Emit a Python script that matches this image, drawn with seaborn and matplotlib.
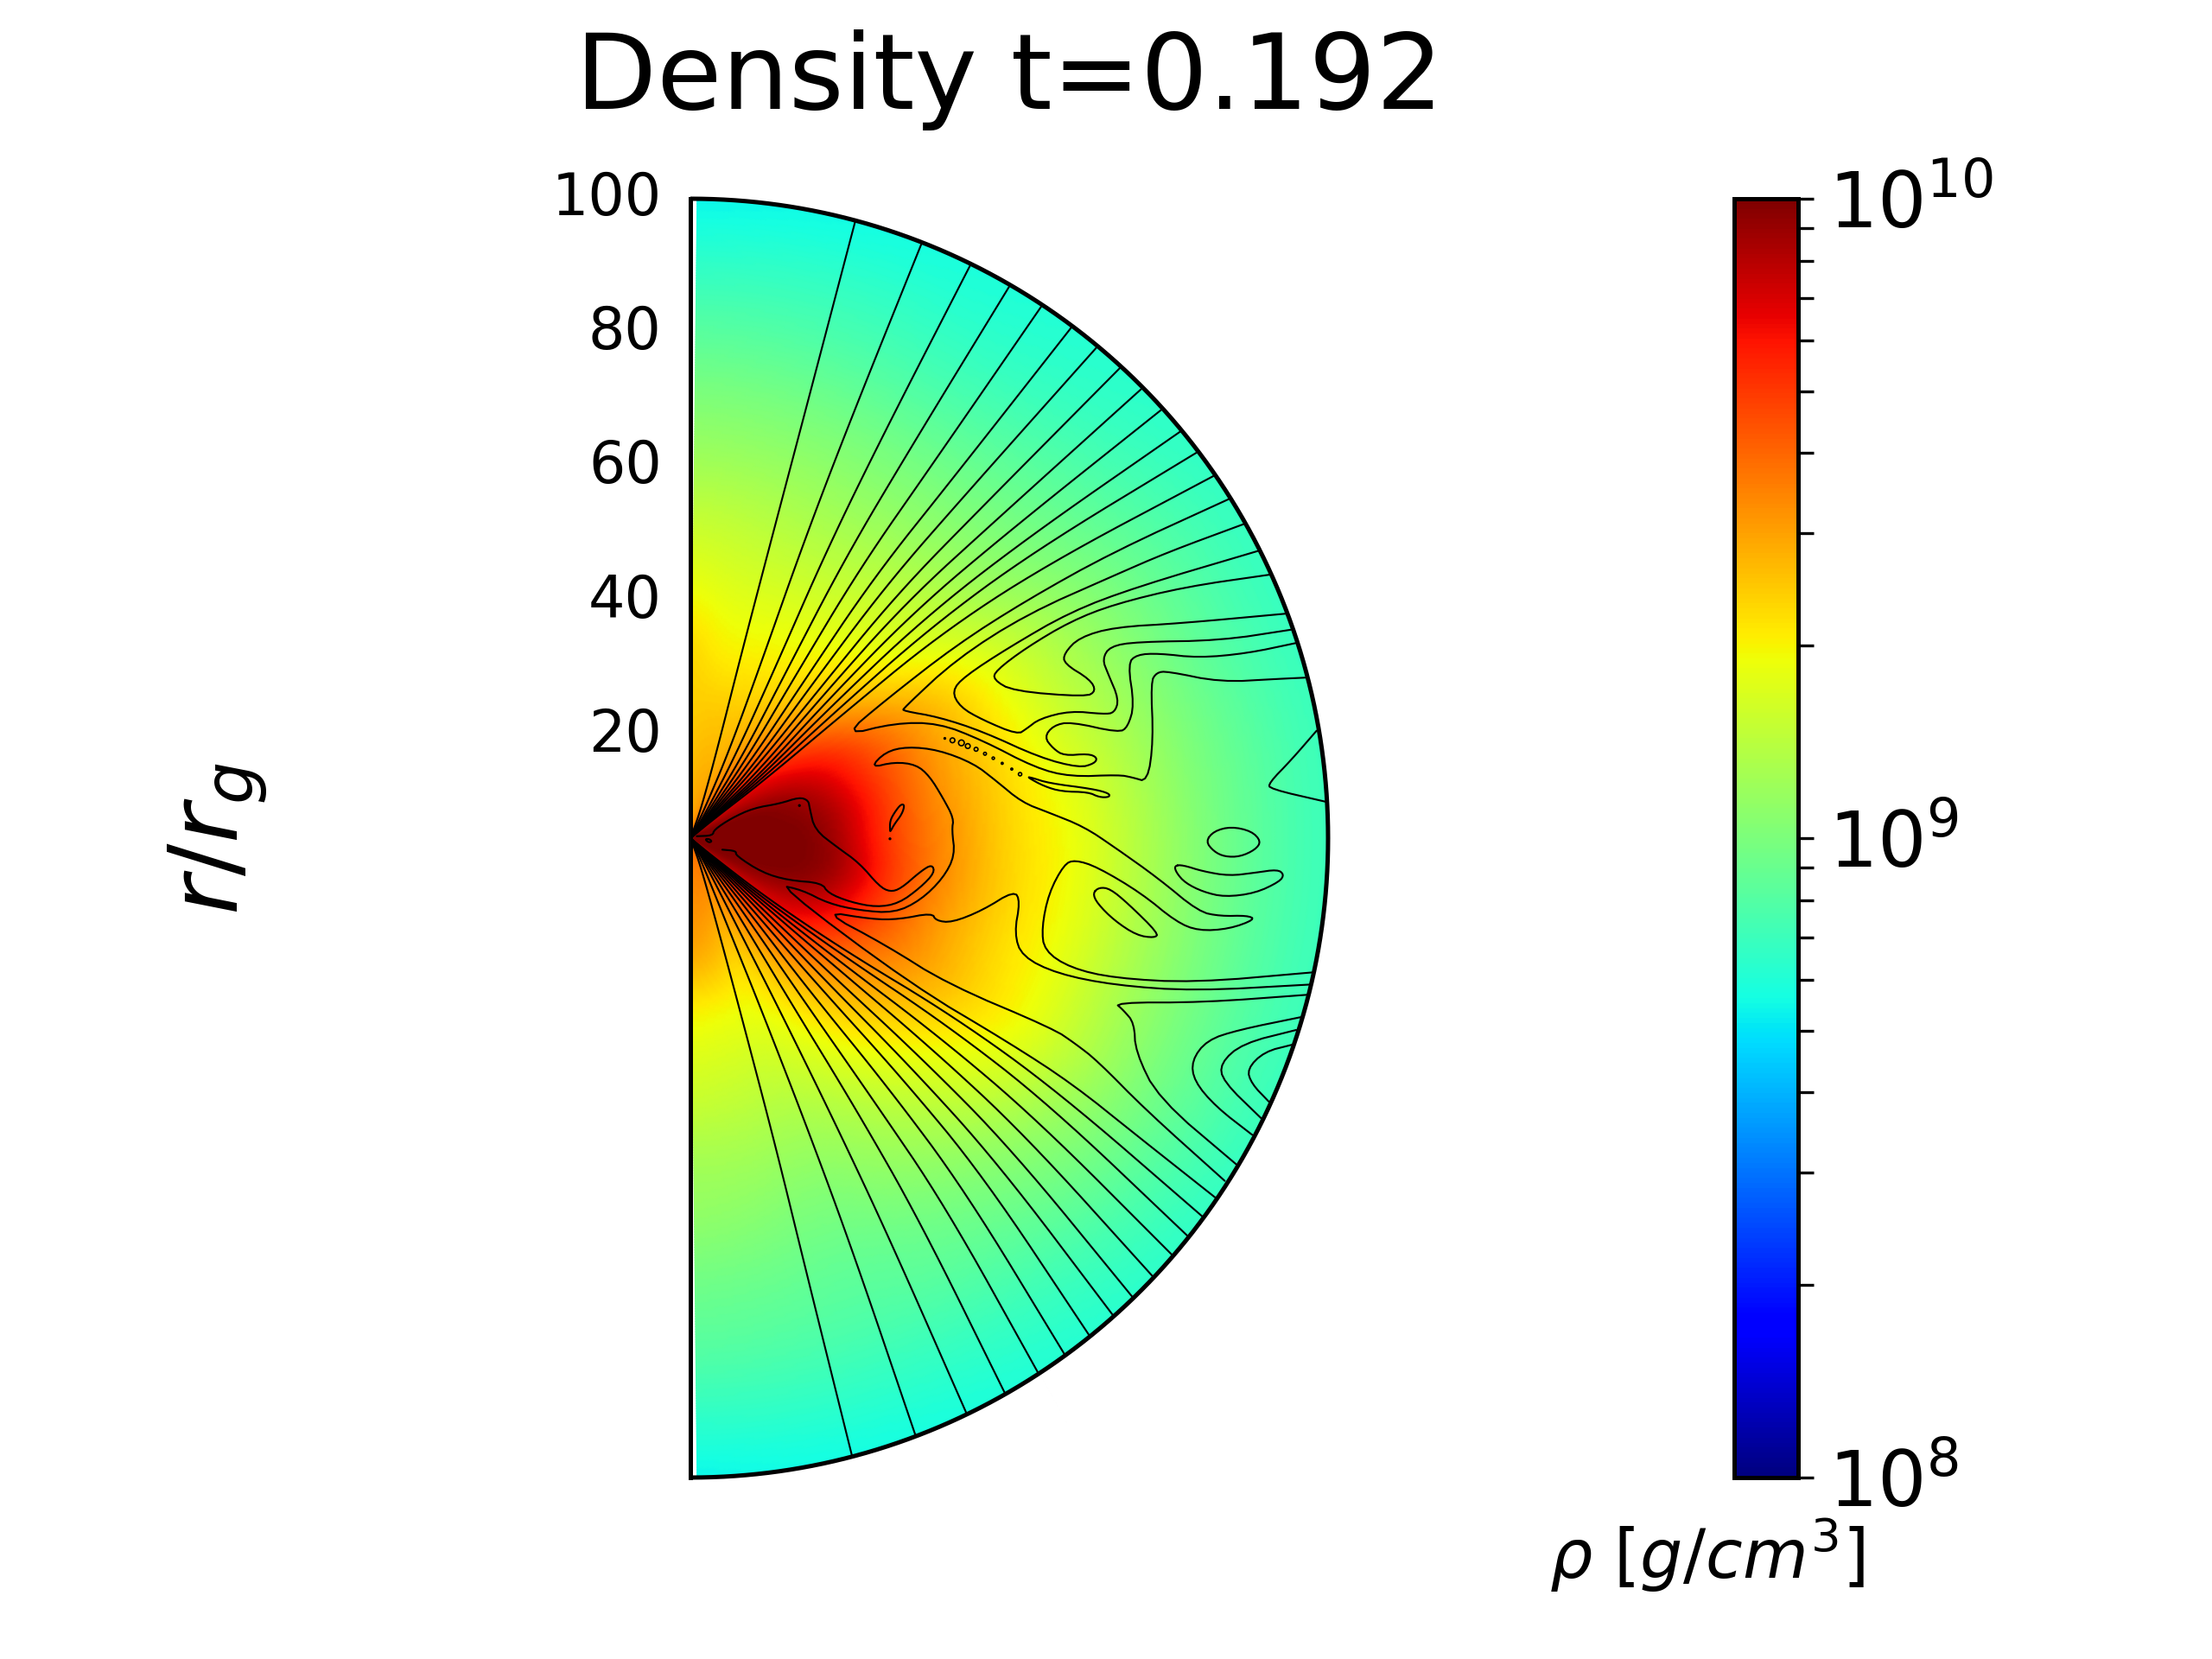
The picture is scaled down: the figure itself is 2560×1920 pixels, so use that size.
import numpy as np
import matplotlib
matplotlib.use("Agg")
import matplotlib.pyplot as plt
from matplotlib.colors import LogNorm
from matplotlib.ticker import LogLocator, NullFormatter
import seaborn as sns

# ---------- density: log10(rho), rows = angle from north pole, cols = radius
theta_deg = [0, 10, 20, 30, 40, 50, 60, 70, 80, 90, 100, 110, 120, 130, 140, 150, 160, 170, 180]
radius = [0, 5, 10, 15, 20, 25, 30, 35, 40, 50, 60, 70, 80, 90, 100]
log_density = [
    [9.45, 9.45, 9.42, 9.40, 9.38, 9.38, 9.37, 9.32, 9.27, 9.18, 9.08, 9.00, 8.91, 8.81, 8.72],
    [9.50, 9.47, 9.45, 9.42, 9.40, 9.35, 9.30, 9.27, 9.23, 9.16, 9.07, 8.99, 8.90, 8.82, 8.73],
    [9.60, 9.50, 9.45, 9.42, 9.40, 9.35, 9.31, 9.27, 9.23, 9.14, 9.06, 8.98, 8.89, 8.82, 8.75],
    [9.70, 9.60, 9.55, 9.48, 9.43, 9.37, 9.32, 9.28, 9.23, 9.14, 9.05, 8.97, 8.88, 8.81, 8.77],
    [9.80, 9.75, 9.70, 9.60, 9.53, 9.44, 9.37, 9.31, 9.26, 9.16, 9.06, 8.98, 8.90, 8.83, 8.79],
    [9.90, 9.85, 9.82, 9.78, 9.70, 9.60, 9.50, 9.40, 9.31, 9.20, 9.08, 9.00, 8.93, 8.86, 8.81],
    [9.95, 9.95, 9.92, 9.88, 9.83, 9.75, 9.65, 9.55, 9.47, 9.32, 9.18, 9.06, 8.97, 8.89, 8.83],
    [10.0, 10.0, 10.0, 9.98, 9.92, 9.82, 9.70, 9.60, 9.50, 9.35, 9.20, 9.09, 8.98, 8.89, 8.83],
    [10.0, 10.0, 10.0, 10.0, 9.97, 9.87, 9.72, 9.60, 9.50, 9.36, 9.25, 9.12, 9.00, 8.91, 8.84],
    [10.0, 10.0, 10.0, 10.0, 10.0, 9.88, 9.72, 9.60, 9.52, 9.36, 9.28, 9.14, 9.01, 8.91, 8.84],
    [10.0, 10.0, 10.0, 10.0, 10.0, 9.92, 9.75, 9.63, 9.52, 9.37, 9.28, 9.14, 9.01, 8.91, 8.84],
    [10.0, 10.0, 10.0, 10.0, 9.97, 9.87, 9.72, 9.60, 9.50, 9.36, 9.27, 9.13, 9.01, 8.91, 8.84],
    [10.0, 9.98, 9.96, 9.93, 9.88, 9.78, 9.65, 9.57, 9.50, 9.38, 9.28, 9.14, 9.01, 8.91, 8.83],
    [9.95, 9.90, 9.85, 9.82, 9.78, 9.68, 9.55, 9.48, 9.42, 9.30, 9.20, 9.07, 8.98, 8.88, 8.81],
    [9.80, 9.75, 9.70, 9.65, 9.58, 9.50, 9.44, 9.38, 9.32, 9.20, 9.10, 9.01, 8.93, 8.85, 8.79],
    [9.65, 9.60, 9.55, 9.50, 9.42, 9.38, 9.32, 9.27, 9.22, 9.12, 9.05, 8.97, 8.91, 8.83, 8.77],
    [9.60, 9.55, 9.50, 9.43, 9.36, 9.30, 9.26, 9.21, 9.17, 9.08, 9.00, 8.94, 8.89, 8.82, 8.75],
    [9.60, 9.55, 9.52, 9.47, 9.42, 9.32, 9.26, 9.22, 9.18, 9.10, 9.03, 8.96, 8.90, 8.82, 8.74],
    [9.55, 9.53, 9.52, 9.50, 9.45, 9.33, 9.28, 9.23, 9.20, 9.10, 9.05, 8.97, 8.91, 8.82, 8.72],
]

# ---------- open field lines: angle (deg) from the pole at each radius
line_radius = [0.3, 5, 15, 30, 50, 70, 100]
north_line_angles = [
    [26, 20, 16.8, 15.5, 15.2, 15.1, 15.0],
    [32, 26, 24.0, 22.0, 21.0, 21.0, 21.3],
    [36, 31, 28.6, 26.5, 25.4, 25.6, 26.1],
    [39, 34, 32.5, 30.0, 29.0, 29.5, 30.1],
    [41, 37, 35.4, 33.0, 32.2, 33.0, 33.5],
    [43, 39, 38.2, 36.0, 35.2, 36.2, 36.8],
    [45, 41, 40.9, 38.5, 37.8, 38.8, 39.7],
    [46, 43, 43.0, 41.0, 40.3, 41.5, 42.5],
    [47, 45, 45.5, 43.0, 42.5, 44.0, 45.2],
    [48, 46.5, 47.5, 45.0, 44.7, 46.2, 47.8],
    [49, 48, 49.0, 47.0, 46.8, 48.3, 50.4],
    [50, 49.5, 50.5, 49.0, 48.8, 50.2, 52.8],
    [51, 51, 52.0, 51.0, 50.8, 52.5, 55.4],
]
south_line_angles = [
    [26, 20, 17.0, 16.0, 15.5, 15.0, 14.7],
    [32, 25, 23.0, 22.5, 22.0, 21.5, 20.7],
    [36, 30, 28.0, 27.5, 27.0, 26.5, 25.7],
    [39, 33, 32.0, 31.5, 31.5, 31.0, 29.6],
    [41, 36, 35.5, 35.0, 35.0, 34.8, 33.1],
    [43, 38.5, 38.5, 38.0, 38.5, 38.0, 36.0],
    [45, 41, 41.0, 41.0, 41.5, 41.0, 38.8],
    [46, 43, 43.5, 43.5, 44.0, 43.5, 41.6],
    [47, 45, 45.5, 46.0, 46.5, 46.0, 44.0],
    [48, 46.5, 47.5, 48.5, 49.0, 48.5, 46.6],
    [49, 48, 49.0, 50.5, 51.5, 51.0, 49.2],
    [50, 49.5, 50.5, 52.5, 54.0, 53.5, 51.4],
    [51, 51, 52.0, 54.0, 56.0, 55.5, 53.6],
]

# ---------- folded field lines (r/r_g units)
hook_17_x = [90.8, 77.6, 66.5, 59.6, 52.7, 47.9, 47.5, 50.6, 62.0, 63.6, 62.7, 58.6, 58.6, 61.0, 66.5, 76.9, 93.3]
hook_17_y = [41.2, 39.3, 36.6, 33.9, 29.8, 26.2, 24.8, 23.0, 22.1, 23.0, 24.8, 27.3, 28.9, 31.4, 33.0, 33.6, 35.1]
hook_16_x = [89.3, 70.0, 59.6, 49.9, 43.0, 41.0, 42.3, 45.8, 51.3, 52.7, 54.8, 59.6, 64.8, 66.5, 67.2, 65.5, 64.6, 65.8, 70.0, 83.1, 94.2]
hook_16_y = [45.0, 39.3, 35.4, 29.8, 25.3, 23.0, 20.5, 18.5, 16.2, 17.1, 18.7, 19.9, 19.4, 19.6, 21.7, 25.7, 28.0, 30.0, 30.7, 30.9, 32.6]
hook_15_x = [87.0, 74.8, 66.5, 52.7, 41.7, 33.4, 33.4, 38.9, 45.8, 54.8, 61.0, 63.4, 63.8, 62.4, 58.6, 56.9, 55.5, 56.9, 59.6, 67.2, 68.6, 69.6, 68.6, 70.0, 73.4, 79.7, 87.3, 94.9]
hook_15_y = [49.2, 44.7, 41.1, 35.0, 28.0, 20.3, 19.9, 18.95, 16.7, 12.6, 11.0, 11.7, 12.6, 13.2, 12.9, 14.0, 15.8, 17.6, 18.2, 16.5, 17.4, 20.8, 27.3, 28.7, 28.9, 28.2, 28.9, 30.5]
hook_14_x = [84.6, 66.2, 52.7, 41.7, 30.5, 24.0, 32.0, 38.9, 45.8, 54.1, 59.6, 67.2, 69.3, 71.7, 72.6, 72.2, 73.1, 74.8, 83.1, 92.1, 96.4]
hook_14_y = [53.1, 44.7, 37.2, 30.2, 21.5, 16.0, 18.0, 18.0, 15.3, 11.0, 9.6, 9.9, 9.5, 8.8, 15.3, 24.4, 25.9, 26.1, 24.4, 24.9, 25.1]
wedge_x = [98.2, 94.2, 90.7, 90.9, 99.6]
wedge_y = [16.8, 12.2, 8.6, 7.7, 5.7]
long_line_x = [82.3, 70.0, 60.0, 50.0, 34.8, 13.7, 17.5, 21.6, 26.5, 32.0, 36.1, 39.6, 41.5, 41.0, 41.3, 39.6, 37.5, 35.4, 32.0, 28.2, 30.6, 34.0, 38.9, 44.4, 47.9, 52.0, 56.2, 61.7, 66.5, 73.4, 79.7, 83.1, 87.3, 88.6, 84.5, 79.7, 76.2, 70.7, 63.8, 60.3, 58.6, 56.2, 55.1, 55.5, 59.6, 66.5, 79.0, 97.5]
long_line_y = [-56.2, -46.5, -38.5, -32.0, -23.0, -7.3, -8.1, -10.2, -11.3, -11.7, -9.7, -6.3, -2.7, 1.3, 3.1, 6.3, 9.7, 11.5, 11.9, 11.0, 13.5, 14.3, 13.8, 11.7, 9.0, 5.6, 4.0, 1.8, -1.4, -6.3, -11.5, -12.2, -12.1, -12.7, -14.2, -14.5, -13.1, -8.6, -4.5, -3.4, -4.1, -8.6, -14.0, -17.6, -20.3, -21.9, -22.6, -21.0]
second_line_x = [97.1, 79.0, 66.5, 57.5, 52.0, 50.8, 51.7, 50.8, 45.8, 41.0, 38.5, 37.9, 32.7, 28.5, 20.6, 30.6, 40.3, 56.9, 60.3, 63.8, 71.4, 83.8]
second_line_y = [-22.9, -23.9, -23.0, -21.2, -18.5, -14.9, -9.9, -8.2, -11.3, -13.2, -12.9, -11.7, -12.7, -12.7, -11.4, -16.7, -22.8, -29.8, -32.1, -34.8, -42.5, -53.6]
third_line_x = [96.7, 80.4, 66.5, 67.9, 69.6, 69.8, 73.4, 85.7]
third_line_y = [-24.5, -25.7, -25.7, -26.9, -28.9, -33.4, -40.7, -51.1]
u_outer_x = [95.7, 85.9, 81.0, 78.6, 79.0, 82.4, 88.1]
u_outer_y = [-28.0, -30.0, -31.6, -34.8, -38.0, -42.0, -46.4]
u_mid_x = [95.0, 86.6, 83.1, 83.5, 89.5]
u_mid_y = [-30.0, -32.1, -35.2, -38.0, -43.8]
u_inner_x = [94.4, 90.0, 87.3, 88.0, 90.7]
u_inner_y = [-32.3, -33.4, -36.1, -38.4, -41.2]
core_x = [1.0, 3.5, 3.7, 6.4, 9.9, 14.0, 17.1, 18.5, 18.7, 19.5, 23.0, 26.5, 29.6, 31.3, 33.0, 36.1, 37.9, 38.3, 36.1, 32.7, 29.2, 25.1, 21.6, 20.6, 15.4, 11.3, 7.1, 7.2, 5.0]
core_y = [0.3, 0.4, 1.3, 3.1, 4.7, 5.4, 6.4, 5.9, 4.7, 1.3, -1.4, -3.9, -7.5, -8.4, -7.9, -5.2, -4.1, -5.4, -7.7, -10.2, -10.8, -10.0, -8.6, -7.0, -6.6, -5.4, -2.7, -2.0, -1.8]

# closed islands of field
circle_x = [80.8, 82.1, 84.8, 88.0, 89.5, 88.6, 86.2, 83.8, 82.1, 80.8]
circle_y = [-0.5, 1.1, 1.8, 1.1, -0.5, -1.8, -2.9, -2.9, -2.1, -0.5]
kidney_x = [75.9, 77.2, 80.4, 84.5, 88.6, 92.1, 93.1, 92.4, 88.6, 83.8, 80.4, 77.6, 76.2, 75.9]
kidney_y = [-4.3, -4.2, -5.2, -5.9, -5.4, -4.9, -5.7, -6.8, -8.6, -9.2, -8.4, -7.0, -5.4, -4.3]
drop_x = [63.1, 64.1, 65.8, 68.6, 73.4, 72.8, 70.0, 66.5, 63.8, 63.1]
drop_y = [-8.6, -7.7, -7.9, -10.2, -14.9, -15.6, -15.2, -12.9, -10.2, -8.6]
sliver_x = [31.3, 31.3, 32.0, 33.0, 33.6, 33.2, 32.0, 31.4, 31.3]
sliver_y = [1.1, 2.7, 4.0, 5.3, 5.2, 3.8, 2.2, 1.1, 1.1]
streak_x = [52.9, 53.4, 56.2, 63.1, 65.7, 65.7, 64.1, 62.4, 58.2, 55.5, 52.9]
streak_y = [9.5, 9.5, 8.6, 7.7, 7.0, 6.4, 6.4, 7.2, 7.3, 8.1, 9.5]
inner_x = [2.3, 2.9, 3.4, 2.9, 2.3]
inner_y = [-0.2, -0.1, -0.5, -0.7, -0.2]
chain_x = [39.9, 41.1, 42.5, 43.5, 44.8, 46.2, 47.5, 48.9, 50.4, 51.7, 17.1, 31.3]
chain_y = [15.6, 15.3, 14.9, 14.4, 13.9, 13.2, 12.5, 11.7, 10.8, 10.0, 5.1, -0.1]
chain_size = [0.3, 1.0, 1.2, 1.0, 0.8, 0.6, 0.5, 0.4, 0.4, 0.7, 0.3, 0.3]

r_tick_positions = [101.0, 80.0, 59.0, 38.0, 17.0]
r_tick_labels = ["100", "80", "60", "40", "20"]
title_text = "Density t=0.192"
BLACK = "#000000"


def chaikin(xs, ys, rounds=2):
    p = np.column_stack([xs, ys]).astype(float)
    closed = np.allclose(p[0], p[-1])
    for _ in range(rounds):
        a, b = p[:-1], p[1:]
        q = np.empty((2 * len(a), 2))
        q[0::2] = 0.75 * a + 0.25 * b
        q[1::2] = 0.25 * a + 0.75 * b
        if closed:
            p = np.vstack([q, q[:1]])
        else:
            p = np.vstack([p[:1], q, p[-1:]])
    return p[:, 0], p[:, 1]


sns.set_theme(style="white", color_codes=False)
plt.rcParams["font.family"] = ["DejaVu Sans"]
plt.rcParams["mathtext.fontset"] = "dejavusans"
plt.rcParams["text.color"] = BLACK
plt.rcParams["axes.labelcolor"] = BLACK
plt.rcParams["xtick.color"] = BLACK
plt.rcParams["ytick.color"] = BLACK

W, H = 2560, 1920
y_span = 202
px_per_unit = 1480 / 200
fig = plt.figure(figsize=(6.4, 4.8), dpi=400)
ax = fig.add_axes([799 / W, (H - 1710) / H, 738 / W, y_span * px_per_unit / H])
cax = fig.add_axes([2006.5 / W, (H - 1710) / H, 74 / W, 1480 / H])

# display mesh refined from the table, so that the outer edge is a true arc
T = np.array(theta_deg, float)
R = np.array(radius, float)
Z = np.array(log_density, float)
t_fine = np.linspace(0.6, 179.4, 361)
r_fine = np.linspace(0, 100, 251)
Z1 = np.array([np.interp(t_fine, T, Z[:, j]) for j in range(len(R))]).T
Z2 = np.array([np.interp(r_fine, R, Z1[i]) for i in range(len(t_fine))])
kernel = np.ones(21) / 21
pad = 10
tmp = np.pad(Z2, ((pad, pad), (0, 0)), mode="edge")
Z2 = np.apply_along_axis(lambda v: np.convolve(v, kernel, mode="valid"), 0, tmp)
tmp = np.pad(Z2, ((0, 0), (pad, pad)), mode="edge")
Z2 = np.apply_along_axis(lambda v: np.convolve(v, kernel, mode="valid"), 1, tmp)

tg, rg = np.meshgrid(np.radians(t_fine), r_fine, indexing="ij")
X = rg * np.sin(tg)
Y = rg * np.cos(tg)
cmap = matplotlib.colormaps["jet"]
norm = LogNorm(vmin=1e8, vmax=1e10)
mesh = ax.pcolormesh(X, Y, 10 ** Z2, cmap=cmap, norm=norm, shading="gouraud", rasterized=True)

# field lines
LW = 0.38
lr = np.array(line_radius)
for row in north_line_angles:
    a = np.radians(row)
    ax.plot(*chaikin(lr * np.sin(a), lr * np.cos(a), 3), color=BLACK, lw=LW)
for row in south_line_angles:
    a = np.radians(row)
    ax.plot(*chaikin(lr * np.sin(a), -lr * np.cos(a), 3), color=BLACK, lw=LW)
for xs, ys in [
    (hook_17_x, hook_17_y), (hook_16_x, hook_16_y), (hook_15_x, hook_15_y), (hook_14_x, hook_14_y),
    (wedge_x, wedge_y), (long_line_x, long_line_y), (second_line_x, second_line_y),
    (third_line_x, third_line_y), (u_outer_x, u_outer_y), (u_mid_x, u_mid_y), (u_inner_x, u_inner_y),
    (core_x, core_y), (circle_x, circle_y), (kidney_x, kidney_y), (drop_x, drop_y),
    (sliver_x, sliver_y), (streak_x, streak_y), (inner_x, inner_y),
]:
    ax.plot(*chaikin(xs, ys), color=BLACK, lw=LW)
ax.scatter(chain_x, chain_y, s=np.array(chain_size) ** 2, facecolors="none", edgecolors=BLACK, linewidths=0.3)

# boundary of the half disc
edge = np.radians(np.linspace(0, 180, 361))
ax.plot(100 * np.sin(edge), 100 * np.cos(edge), color=BLACK, lw=0.9, clip_on=False, solid_capstyle="butt")
ax.plot([0, 0], [-100, 100], color=BLACK, lw=0.9, clip_on=False, solid_capstyle="projecting")

ax.set_xlim(0, 100)
ax.set_ylim(-100, 102)
ax.set_xticks([])
ax.set_yticks(r_tick_positions)
ax.set_yticklabels(r_tick_labels)
ax.tick_params(axis="y", length=0, pad=6, labelsize=12, labelcolor=BLACK)
for s in ax.spines.values():
    s.set_visible(False)
ax.set_ylabel(r"$r/r_g$", fontsize=20, color=BLACK)
ax.yaxis.set_label_coords(-0.66, 0.495)
ax.set_title(title_text, fontsize=22, color=BLACK, pad=16)
ax.patch.set_alpha(0)

cb = fig.colorbar(mesh, cax=cax)
cb.outline.set_edgecolor(BLACK)
cb.outline.set_linewidth(0.9)
cb.set_ticks([1e8, 1e9, 1e10])
cax.yaxis.set_minor_locator(LogLocator(base=10, subs=range(2, 10)))
cax.yaxis.set_minor_formatter(NullFormatter())
cax.tick_params(axis="y", which="major", length=3.3, width=0.6, labelsize=16, pad=3, colors=BLACK, right=True)
cax.tick_params(axis="y", which="minor", length=3.3, width=0.6, colors=BLACK, right=True)
cax.set_xlabel(r"$\rho\ [g/cm^3]$", fontsize=14, color=BLACK)
cax.xaxis.set_label_coords(-0.42, -0.03)

fig.savefig("out.png", dpi=400, facecolor="white")
